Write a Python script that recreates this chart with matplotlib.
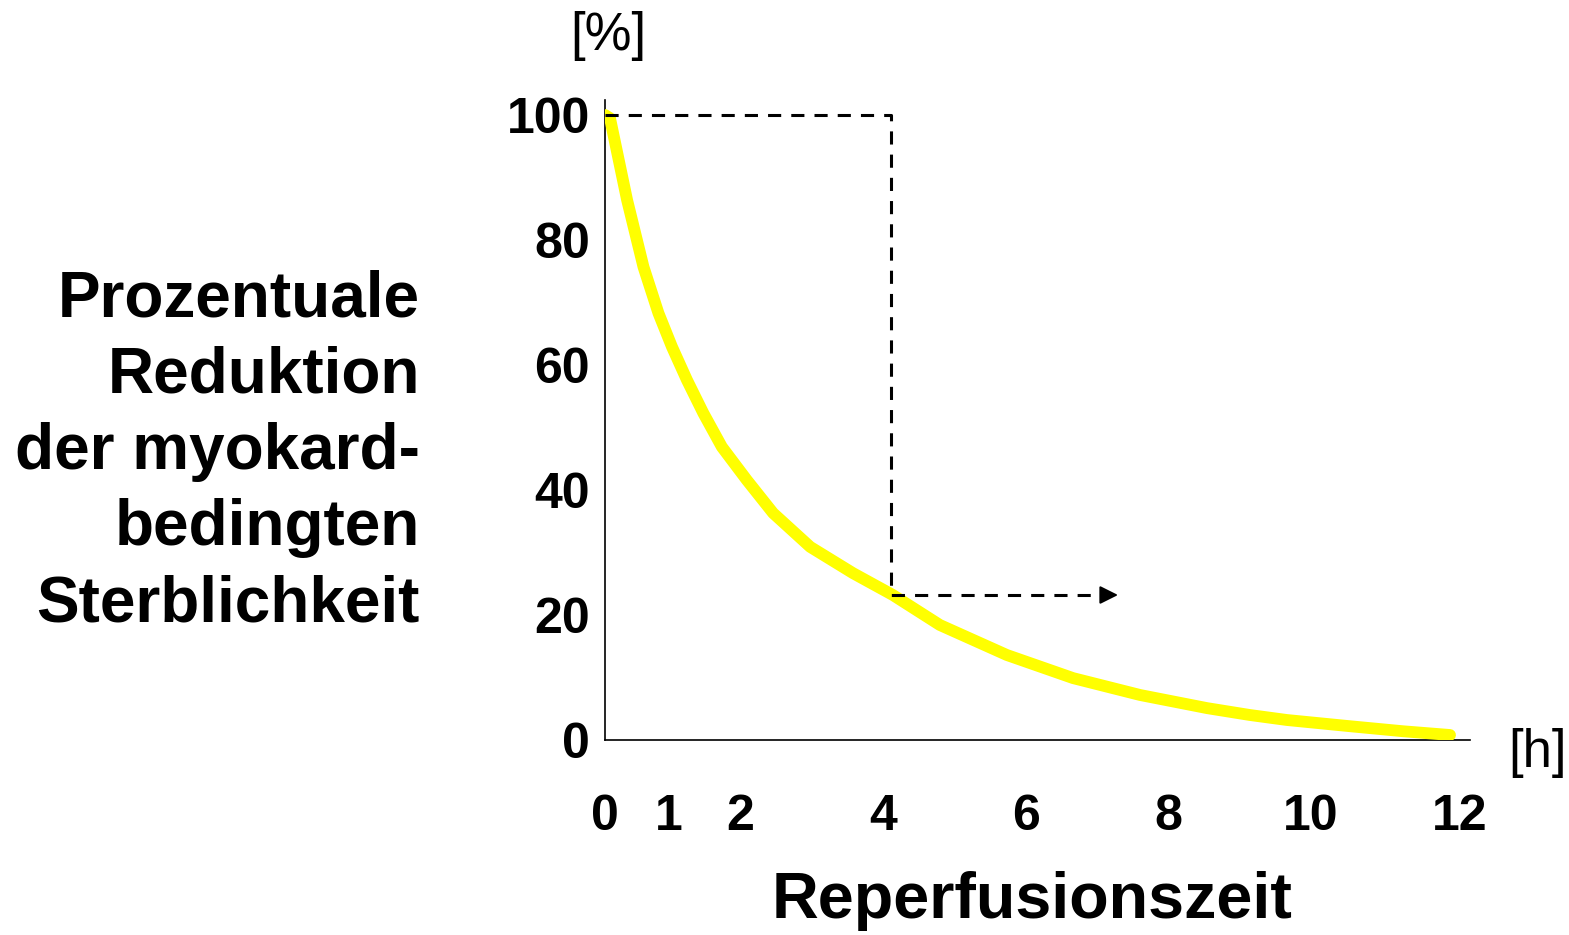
import matplotlib
matplotlib.use("Agg")
import matplotlib.pyplot as plt
from matplotlib.transforms import ScaledTranslation

# curve (hours, % reduction)
hours = [0, 0.07, 0.31, 0.54, 0.75, 0.94, 1.15, 1.38, 1.64, 1.99, 2.36, 2.88, 3.48, 4.04,
         4.7, 5.64, 6.57, 7.51, 8.45, 9.05, 9.57, 10.46, 11.2, 11.86]
reduction = [100, 99.5, 86.4, 75.7, 68.3, 62.9, 57.6, 52.3, 46.9, 41.6, 36.3, 30.9, 26.7, 23.2,
             18.4, 13.6, 9.9, 7.2, 5.1, 4.0, 3.2, 2.2, 1.4, 0.8]

x_ticks = [0, 1, 2, 4, 6, 8, 10, 12]
y_ticks = [0, 20, 40, 60, 80, 100]

# dashed guide: 100 % line out to 4 h, then down to the curve, then arrow
guide_x = [0, 4.01, 4.01, 7.0]
guide_y = [100, 100, 23.2, 23.2]
arrow_end = 7.2

plt.rcParams["font.family"] = ["Liberation Sans", "DejaVu Sans"]

fig = plt.figure(figsize=(15.69, 9.35), dpi=100)
ax = fig.add_axes([605 / 1569, 1 - 740 / 935, 865 / 1569, 640 / 935])

ax.plot(hours, reduction, color="black", lw=1.0, zorder=2)
ax.plot(hours, reduction, color="#ffff00", lw=8.5, solid_capstyle="round",
        solid_joinstyle="round", zorder=3)

ax.plot(guide_x, guide_y, color="black", lw=2.2, linestyle=(0, (4.3, 3.3)), zorder=4)
ax.annotate("", xy=(arrow_end, guide_y[-1]), xytext=(guide_x[-1], guide_y[-1]),
            arrowprops=dict(arrowstyle="-|>,head_length=1.1,head_width=0.55", color="black",
                            lw=1.5, shrinkA=0, shrinkB=0), zorder=4)

ax.set_xlim(0, 865 / 71.25)
ax.set_ylim(0, 640 / 6.25)
ax.spines["top"].set_visible(False)
ax.spines["right"].set_visible(False)
for s in ("left", "bottom"):
    ax.spines[s].set_linewidth(1.2)

ax.set_xticks(x_ticks)
ax.set_xticklabels([str(v) for v in x_ticks], fontsize=36, fontweight="bold")
ax.set_yticks(y_ticks)
ax.set_yticklabels([str(v) for v in y_ticks], fontsize=36, fontweight="bold")
ax.tick_params(axis="both", length=0)
ax.tick_params(axis="x", pad=39)
ax.tick_params(axis="y", pad=11)

# the inner hour labels sit a little left of their ticks in the original
shift = ScaledTranslation(-0.07, 0, fig.dpi_scale_trans)
for lab in ax.get_xticklabels()[1:-1]:
    lab.set_transform(lab.get_transform() + shift)

fig.text(420 / 1569, 1 - 452 / 935,
         "Prozentuale\nReduktion\nder myokard-\nbedingten\nSterblichkeit",
         ha="right", va="center", ma="right", fontsize=46, fontweight="bold", linespacing=1.35)
fig.text(1032 / 1569, 1 - 901 / 935, "Reperfusionszeit", ha="center", va="center",
         fontsize=46.5, fontweight="bold")
fig.text(608 / 1569, 1 - 36 / 935, "[%]", ha="center", va="center", fontsize=38)
fig.text(1537 / 1569, 1 - 753 / 935, "[h]", ha="center", va="center", fontsize=38)

fig.savefig("out.png", dpi=100, facecolor="white")
